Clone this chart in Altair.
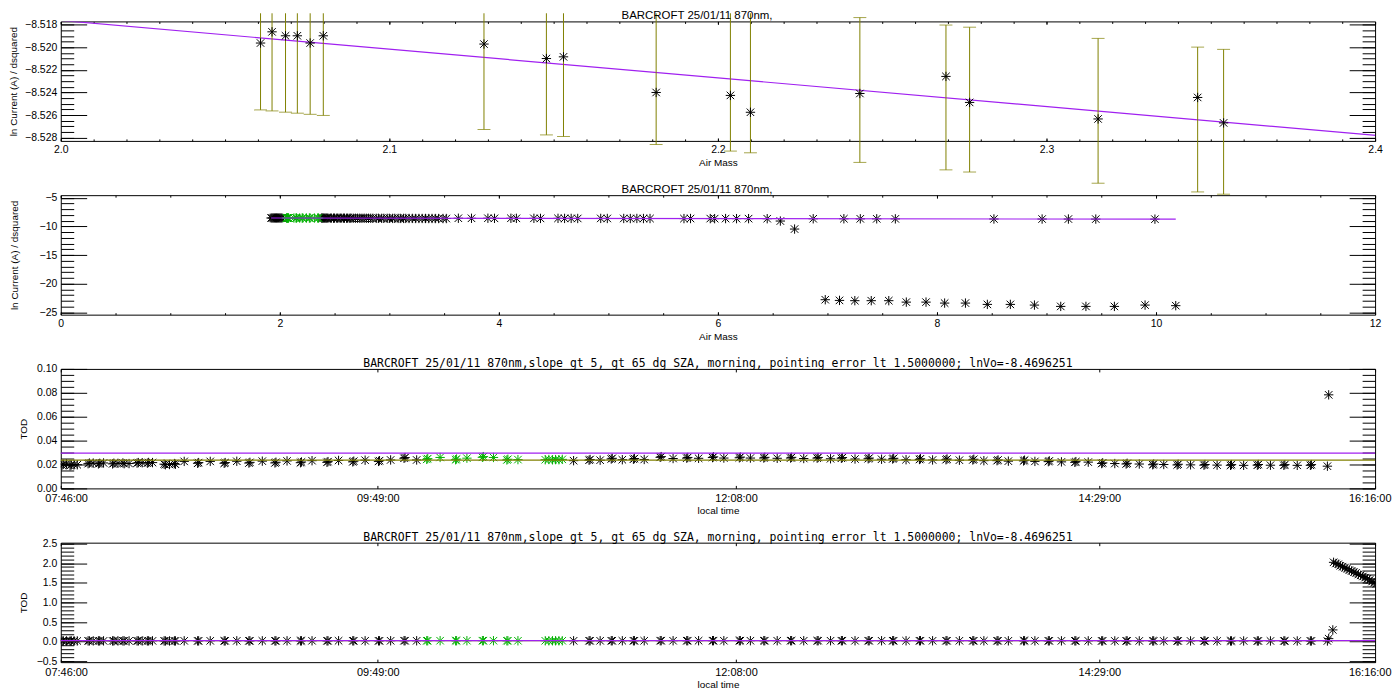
import altair as alt
import pandas as pd

FONT = "Liberation Sans"
MONO = "DejaVu Sans Mono"
BLACK = "#000000"
GREEN = "#00b000"
PURPLE = "#a020f0"
OLIVE = "#808000"
STAR = "M-1,0L1,0M0,-1L0,1M-0.8,-0.8L0.8,0.8M-0.8,0.8L0.8,-0.8"
STAR_SIZE = 88

TITLE_TOP = "BARCROFT 25/01/11 870nm,"
TITLE_TOD = ("BARCROFT 25/01/11 870nm,slope gt 5, gt 65 dg SZA, morning, "
             "pointing error lt 1.5000000; lnVo=-8.4696251")

# ---------------- Panel 1 : fitted points with error bars ----------------
p1_am = [2.0608, 2.0643, 2.0684, 2.0720, 2.0759, 2.0799, 2.1288, 2.1478, 2.1530,
         2.1812, 2.2038, 2.2099, 2.2432, 2.2694, 2.2766, 2.3157, 2.3460, 2.3539]
p1_ln = [-8.51963, -8.51864, -8.51899, -8.51899, -8.51963, -8.51899, -8.51972, -8.52100, -8.52085,
         -8.52400, -8.52426, -8.52575, -8.52409, -8.52258, -8.52488, -8.52634, -8.52444, -8.52669]
p1_err_lo = [-8.52554, -8.52563, -8.52574, -8.52583, -8.52593, -8.52603, -8.52727, -8.52775, -8.52789,
             -8.52860, -8.52918, -8.52933, -8.53018, -8.53084, -8.53103, -8.53202, -8.53279, -8.53299]
p1_err_hi = [-8.51274, -8.51283, -8.51294, -8.51303, -8.51313, -8.51323, -8.51447, -8.51495, -8.51509,
             -8.51580, -8.51638, -8.51653, -8.51738, -8.51804, -8.51823, -8.51922, -8.51999, -8.52019]
ERR_CUT = -8.5170  # top of the drawing area

fit_am = [1.92, 10.18]
fit_ln = [-8.5156, -8.7254]

# ---------------- Panel 2 : all morning points ----------------
am_up = [1.92, 1.93, 1.94, 1.95, 1.96, 1.97, 1.98, 1.99, 2.00, 2.01, 2.02,
         2.38, 2.39, 2.40, 2.41, 2.42, 2.43, 2.44, 2.46, 2.47, 2.49,
         2.50, 2.52, 2.53, 2.55, 2.56, 2.58, 2.59, 2.61, 2.62, 2.64,
         2.65, 2.67, 2.69, 2.71, 2.73, 2.75, 2.77, 2.79, 2.81, 2.83,
         2.85, 2.88, 2.90, 2.93, 2.95, 2.98, 3.00, 3.03, 3.05, 3.08,
         3.10, 3.13, 3.15, 3.18, 3.21, 3.24, 3.27, 3.30, 3.33, 3.36,
         3.39, 3.42, 3.45, 3.49, 3.52,
         3.63, 3.75, 3.90, 3.96, 4.11, 4.16, 4.32, 4.38, 4.54, 4.60, 4.66, 4.72, 4.93, 4.99,
         5.14, 5.20, 5.26, 5.32, 5.38, 5.69, 5.75, 5.93, 5.97, 6.07, 6.17, 6.28, 6.45, 6.57,
         6.70, 6.87, 7.15, 7.30, 7.45, 7.62, 8.52, 8.96, 9.20, 9.45, 9.99]
ln_up = [-8.516, -8.515, -8.517, -8.516, -8.518, -8.517, -8.516, -8.518, -8.517, -8.519, -8.518,
         -8.53, -8.53, -8.53, -8.54, -8.54, -8.53, -8.54, -8.54, -8.54, -8.55,
         -8.54, -8.55, -8.54, -8.55, -8.55, -8.55, -8.55, -8.56, -8.55, -8.56,
         -8.55, -8.56, -8.56, -8.56, -8.56, -8.57, -8.56, -8.57, -8.57, -8.57,
         -8.57, -8.58, -8.57, -8.58, -8.58, -8.58, -8.58, -8.59, -8.58, -8.59,
         -8.59, -8.59, -8.59, -8.60, -8.59, -8.60, -8.60, -8.60, -8.60, -8.61,
         -8.60, -8.61, -8.61, -8.61, -8.61,
         -8.56, -8.57, -8.56, -8.58, -8.57, -8.58, -8.58, -8.59, -8.58, -8.59, -8.59, -8.60, -8.59, -8.60,
         -8.60, -8.61, -8.60, -8.61, -8.61, -8.62, -8.61, -8.62, -8.63, -8.62, -8.63, -8.63, -8.64, -9.05,
         -10.45, -8.65, -8.65, -8.66, -8.66, -8.67, -8.69, -8.70, -8.70, -8.71, -8.72]
am_low = [6.98, 7.11, 7.25, 7.40, 7.56, 7.72, 7.90, 8.07, 8.26, 8.46, 8.67, 8.89, 9.13, 9.36, 9.62, 9.90, 10.18]
ln_low = [-22.79, -22.91, -22.96, -22.96, -22.96, -23.21, -23.21, -23.38, -23.38, -23.61, -23.61,
          -23.73, -23.96, -23.96, -23.96, -23.73, -23.83]

# ---------------- Panels 3 & 4 : TOD against local time (minutes) ----------------
t_black = [466.5, 467.0, 468.2, 469.6, 470.1, 471.2, 472.4,
           476.6, 477.1, 478.6, 480.6, 481.1, 482.6,
           486.1, 486.6, 488.2, 490.1, 490.6, 492.5,
           495.6, 496.1, 497.6, 499.6, 500.1, 501.6,
           506.1, 506.6, 508.2, 510.1, 510.5,
           513.9, 519.1, 519.5, 524.0, 529.4, 529.8, 534.3, 539.0, 539.4, 544.2,
           549.1, 549.5, 553.8, 559.0, 559.4, 563.5, 569.3, 569.7, 573.8, 579.3,
           579.7, 584.1, 589.3, 589.7, 594.0, 599.2, 599.6, 604.1,
           665.0, 671.0, 671.4, 675.3, 679.6, 680.0, 683.9, 688.2, 688.6, 692.4,
           698.6, 699.0, 703.6, 708.9, 709.3, 713.5, 718.9, 719.3, 723.3, 729.3,
           729.7, 733.6, 738.8, 739.2, 744.0, 749.2, 749.6, 754.3, 759.5, 759.9,
           764.7, 768.9, 769.3, 774.2, 779.3, 779.7, 784.5, 788.8, 789.2, 794.0,
           799.2, 799.6, 804.3, 809.5, 809.9, 814.7, 819.9, 820.3, 824.2, 829.3,
           829.7, 833.7, 839.6, 840.0, 844.0, 849.2, 849.6, 854.3, 859.5, 859.9,
           864.7, 869.9, 870.3, 875.0, 879.4, 879.8, 884.5, 889.7, 890.1, 894.0,
           899.2, 899.6, 904.4, 909.6, 910.0, 914.7, 919.9, 920.3, 925.0, 930.3,
           930.7, 935.4, 940.6, 941.0, 945.8, 950.9, 951.3, 957.5, 958.0, 959.6,
           959.9, 960.8, 961.7, 962.5, 963.4, 964.3, 965.1, 966.0, 966.9, 967.8,
           968.6, 969.5, 970.4, 971.3, 972.1, 973.0, 973.9, 974.8, 975.6, 976.5]
tod_black = [0.0195, 0.0201, 0.0205, 0.0190, 0.0197, 0.0200, 0.0198,
             0.0207, 0.0212, 0.0212, 0.0205, 0.0210, 0.0213,
             0.0205, 0.0211, 0.0210, 0.0213, 0.0207, 0.0208,
             0.0212, 0.0216, 0.0215, 0.0211, 0.0217, 0.0216,
             0.0203, 0.0198, 0.0200, 0.0208, 0.0202,
             0.0226, 0.0210, 0.0216, 0.0226, 0.0210, 0.0216, 0.0227, 0.0212, 0.0218, 0.0228,
             0.0213, 0.0219, 0.0230, 0.0215, 0.0221, 0.0232, 0.0218, 0.0224, 0.0234, 0.0222,
             0.0228, 0.0236, 0.0226, 0.0232, 0.0238, 0.0252, 0.0258, 0.0238,
             0.0232, 0.0236, 0.0242, 0.0236, 0.0246, 0.0252, 0.0240, 0.0244, 0.0250, 0.0242,
             0.0260, 0.0266, 0.0250, 0.0253, 0.0259, 0.0252, 0.0258, 0.0264, 0.0254, 0.0256,
             0.0262, 0.0254, 0.0254, 0.0260, 0.0252, 0.0254, 0.0260, 0.0250, 0.0253, 0.0259,
             0.0248, 0.0252, 0.0258, 0.0246, 0.0248, 0.0254, 0.0244, 0.0246, 0.0252, 0.0240,
             0.0242, 0.0248, 0.0238, 0.0240, 0.0246, 0.0236, 0.0238, 0.0244, 0.0232, 0.0232,
             0.0238, 0.0228, 0.0230, 0.0236, 0.0226, 0.0224, 0.0230, 0.0222, 0.0218, 0.0224,
             0.0220, 0.0208, 0.0214, 0.0208, 0.0204, 0.0210, 0.0204, 0.0198, 0.0204, 0.0200,
             0.0196, 0.0202, 0.0197, 0.0194, 0.0200, 0.0195, 0.0193, 0.0199, 0.0193, 0.0194,
             0.0200, 0.0194, 0.0193, 0.0199, 0.0193, 0.0193, 0.0199, 0.0186, 0.0783, 0.300,
             2.02, 1.99, 1.97, 1.93, 1.91, 1.88, 1.86, 1.82, 1.80, 1.77,
             1.75, 1.71, 1.69, 1.66, 1.63, 1.60, 1.57, 1.53, 1.50, 1.47]
t_green = [608.0, 608.4, 613.2, 619.2, 619.6, 623.6, 629.6, 630.0, 633.9,
           639.1, 639.5, 643.4, 654.0, 655.4, 656.8, 658.0, 659.3, 660.6]
tod_green = [0.0243, 0.0249, 0.0259, 0.0240, 0.0246, 0.0253, 0.0260, 0.0266, 0.0259,
             0.0238, 0.0244, 0.0241, 0.0240, 0.0242, 0.0239, 0.0241, 0.0240, 0.0243]
line_t = [466, 976]
tod_purple = [0.0295, 0.0295]
tod_olive = [0.0237, 0.0237]

time_ticks = [466, 589, 728, 869, 976]

# ---------------- styling helpers ----------------
AX = dict(grid=False, domain=False, ticks=True, tickColor=BLACK, tickWidth=1,
          labelColor=BLACK, labelFont=FONT, labelFontSize=10.5,
          titleColor=BLACK, titleFont=FONT, titleFontSize=10, titleFontWeight="normal",
          labelFlush=False, labelOverlap=False, minExtent=0)
NOLAB = dict(labels=False, title=None)
TIME_LABEL = ("(floor(datum.value/60)<10?'0':'') + floor(datum.value/60) + ':' + "
              "((datum.value%60)<10?'0':'') + (datum.value%60) + ':00'")

W, H = 1320, 120


def frame(xdom, ydom, xmaj, xmin, ymaj, ymin, xtitle, ytitle, xlab, ylab, ytp):
    df = pd.DataFrame({"fx": [xdom[0]], "fy": [ydom[0]]})
    xs = alt.Scale(domain=xdom, nice=False, zero=False)
    ys = alt.Scale(domain=ydom, nice=False, zero=False)
    pairs = [
        (dict(orient="bottom", values=xmaj, tickSize=3, offset=-3, labelPadding=4,
              title=xtitle, titlePadding=2, **xlab),
         dict(orient="left", values=ymaj, tickSize=26, offset=-26, labelPadding=4,
              title=ytitle, titlePadding=ytp, **ylab)),
        (dict(orient="bottom", values=xmin, tickSize=2, offset=-2, **NOLAB),
         dict(orient="left", values=ymin, tickSize=13, offset=-13, **NOLAB)),
        (dict(orient="top", values=xmaj, tickSize=3, offset=-3, **NOLAB),
         dict(orient="right", values=ymaj, tickSize=26, offset=-26, **NOLAB)),
        (dict(orient="top", values=xmin, tickSize=2, offset=-2, **NOLAB),
         dict(orient="right", values=ymin, tickSize=13, offset=-13, **NOLAB)),
    ]
    layers = []
    for xa, ya in pairs:
        layers.append(alt.Chart(df).mark_point(opacity=0).encode(
            x=alt.X("fx:Q", scale=xs, axis=alt.Axis(**{**AX, **xa})),
            y=alt.Y("fy:Q", scale=ys, axis=alt.Axis(**{**AX, **ya}))))
    return layers, xs, ys


def stars(df, xf, yf, xs, ys, color, clip=False):
    return alt.Chart(df).mark_point(shape=STAR, filled=False, size=STAR_SIZE, color=color,
                                    strokeWidth=1, opacity=1, clip=clip).encode(
        x=alt.X(f"{xf}:Q", scale=xs, axis=None),
        y=alt.Y(f"{yf}:Q", scale=ys, axis=None))


def hline(df, xf, yf, xs, ys, color, clip=False):
    return alt.Chart(df).mark_line(color=color, strokeWidth=1.2, clip=clip).encode(
        x=alt.X(f"{xf}:Q", scale=xs, axis=None),
        y=alt.Y(f"{yf}:Q", scale=ys, axis=None))


def title_mark(text, font, size, xpos):
    return alt.Chart(pd.DataFrame({"label": [text]})).mark_text(
        font=font, fontSize=size, color=BLACK, align="center", baseline="alphabetic"
    ).encode(x=alt.value(xpos), y=alt.value(-2), text="label:N")


# ---- panel 1
fr1, xs1, ys1 = frame([2.0, 2.4], [-8.52828, -8.51772],
                      [2.0, 2.1, 2.2, 2.3, 2.4], [round(2.0 + 0.01 * i, 2) for i in range(41)],
                      [-8.528, -8.526, -8.524, -8.522, -8.520, -8.518],
                      [round(-8.528 + 0.0005 * i, 4) for i in range(21)],
                      "Air Mass", "ln Current (A)  /  dsquared",
                      dict(format=".1f"), dict(format=".3f"), 6)
df_p1 = pd.DataFrame({"am": p1_am, "ln": p1_ln, "lo": p1_err_lo, "hi": p1_err_hi})
df_p1["hi_draw"] = [min(h, ERR_CUT) for h in p1_err_hi]
df_p1_caps = df_p1[df_p1["hi"] <= ERR_CUT]
df_fit = pd.DataFrame({"am": fit_am, "ln": fit_ln})

err_rule = alt.Chart(df_p1).mark_rule(color=OLIVE, strokeWidth=1).encode(
    x=alt.X("am:Q", scale=xs1, axis=None),
    y=alt.Y("lo:Q", scale=ys1, axis=None), y2="hi_draw:Q")
cap_lo = alt.Chart(df_p1).mark_tick(orient="horizontal", size=13, thickness=1, color=OLIVE).encode(
    x=alt.X("am:Q", scale=xs1, axis=None), y=alt.Y("lo:Q", scale=ys1, axis=None))
cap_hi = alt.Chart(df_p1_caps).mark_tick(orient="horizontal", size=13, thickness=1, color=OLIVE).encode(
    x=alt.X("am:Q", scale=xs1, axis=None), y=alt.Y("hi:Q", scale=ys1, axis=None))
p1 = alt.layer(*fr1, hline(df_fit, "am", "ln", xs1, ys1, PURPLE, clip=True),
               err_rule, cap_lo, cap_hi, stars(df_p1, "am", "ln", xs1, ys1, BLACK),
               title_mark(TITLE_TOP, FONT, 11.5, W / 2 - 21)
               ).resolve_axis(x="independent", y="independent").properties(width=W, height=H)

# ---- panel 2
fr2, xs2, ys2 = frame([0, 12], [-25.4, -4.53],
                      [0, 2, 4, 6, 8, 10, 12], [0.5 * i for i in range(25)],
                      [-25, -20, -15, -10, -5], [-25 + i for i in range(21)],
                      "Air Mass", "ln Current (A)  /  dsquared",
                      dict(format="d"), dict(format="d"), 20)
df_up = pd.DataFrame({"am": am_up, "ln": ln_up})
df_low = pd.DataFrame({"am": am_low, "ln": ln_low})
df_g2 = pd.DataFrame({"am": p1_am, "ln": p1_ln})
p2 = alt.layer(*fr2, stars(df_up, "am", "ln", xs2, ys2, BLACK),
               stars(df_low, "am", "ln", xs2, ys2, BLACK),
               stars(df_g2, "am", "ln", xs2, ys2, GREEN),
               hline(df_fit, "am", "ln", xs2, ys2, PURPLE),
               title_mark(TITLE_TOP, FONT, 11.5, W / 2 - 21)
               ).resolve_axis(x="independent", y="independent").properties(width=W, height=H)

# ---- panels 3 and 4
df_tb = pd.DataFrame({"t": t_black, "tod": tod_black})
df_tg = pd.DataFrame({"t": t_green, "tod": tod_green})
df_lp = pd.DataFrame({"t": line_t, "tod": tod_purple})
df_lo = pd.DataFrame({"t": line_t, "tod": tod_olive})
time_lab = dict(labelExpr=TIME_LABEL, labelFlush=True, labelFlushOffset=16, labelFontSize=11)


def tod_panel(ydom, ymaj, ymin, yfmt, ytp):
    fr, xs, ys = frame([466, 976], ydom, time_ticks, [], ymaj, ymin,
                       "local time", "TOD", time_lab, dict(format=yfmt), ytp)
    return alt.layer(*fr, stars(df_tb, "t", "tod", xs, ys, BLACK, clip=True),
                     stars(df_tg, "t", "tod", xs, ys, GREEN, clip=True),
                     hline(df_lo, "t", "tod", xs, ys, OLIVE),
                     hline(df_lp, "t", "tod", xs, ys, PURPLE),
                     title_mark(TITLE_TOD, MONO, 11.5, W / 2)
                     ).resolve_axis(x="independent", y="independent").properties(width=W, height=H)


p3 = tod_panel([0, 0.1], [0, 0.02, 0.04, 0.06, 0.08, 0.10],
               [round(0.005 * i, 3) for i in range(21)], ".2f", 8)
p4 = tod_panel([-0.52, 2.52], [-0.5, 0, 0.5, 1.0, 1.5, 2.0, 2.5],
               [round(-0.5 + 0.1 * i, 1) for i in range(31)], ".1f", 8)

chart = alt.vconcat(p1, p2, p3, p4, spacing=54.5, bounds="flush").properties(
    padding={"left": 0, "top": 0, "right": 0, "bottom": 0}
).configure_view(stroke=BLACK, strokeWidth=1)

chart.save("out.html", embed_options={"renderer": "svg", "actions": False})
